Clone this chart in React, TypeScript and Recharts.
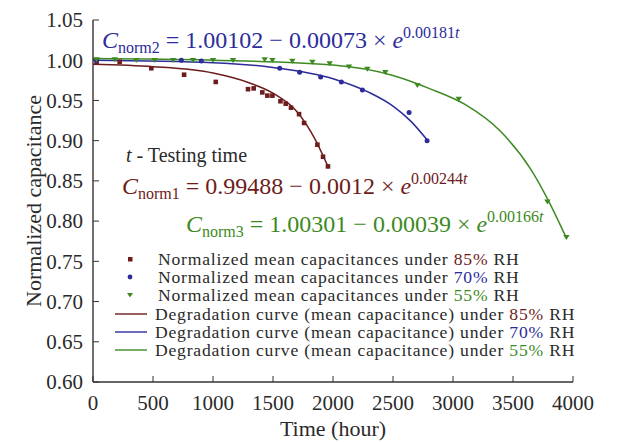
import { ComposedChart, Line, Scatter, XAxis, YAxis, Legend } from "recharts"

const SERIF = "Liberation Serif"
const INK = "#2a2a2a"
const RED = "#6e1c1c"
const BLUE = "#2c2c9a"
const GREEN = "#3d8a22"

const xTicks = [0, 500, 1000, 1500, 2000, 2500, 3000, 3500, 4000]
const yTicks = [0.6, 0.65, 0.7, 0.75, 0.8, 0.85, 0.9, 0.95, 1.0, 1.05]

// measured mean capacitances, 85% RH
const rh85Hours = [30, 222, 486, 759, 1023, 1292, 1339, 1411, 1453, 1495, 1562, 1606, 1650, 1717, 1759, 1870, 1917, 1958]
const rh85Values = [0.998, 0.998, 0.99, 0.982, 0.973, 0.964, 0.965, 0.96, 0.956, 0.956, 0.949, 0.946, 0.941, 0.933, 0.922, 0.895, 0.88, 0.868]

// 70% RH
const rh70Hours = [30, 736, 903, 1556, 1722, 1897, 2070, 2245, 2634, 2784]
const rh70Values = [1.0, 1.0, 0.999, 0.99, 0.985, 0.979, 0.973, 0.963, 0.935, 0.9]

// 55% RH
const rh55Hours = [30, 181, 361, 514, 667, 833, 1000, 1167, 1431, 1495, 1661, 1828, 1972, 2133, 2286, 2436, 2703, 3048, 3787, 3945]
const rh55Values = [1.001, 1.001, 1.0, 1.0, 1.0, 1.0, 1.0, 1.0, 1.001, 1.0, 0.999, 0.998, 0.996, 0.992, 0.989, 0.985, 0.969, 0.952, 0.824, 0.78]

// degradation curves
const fit85Hours = [0, 500, 1000, 1300, 1500, 1700, 1850, 1958]
const fit85Values = [0.995, 0.992, 0.984, 0.972, 0.959, 0.936, 0.902, 0.868]
const fit70Hours = [0, 1000, 1500, 2000, 2300, 2500, 2650, 2784]
const fit70Values = [1.0, 0.997, 0.991, 0.977, 0.96, 0.943, 0.924, 0.901]
const fit55Hours = [0, 1000, 2000, 2500, 2800, 3100, 3400, 3650, 3800, 3945]
const fit55Values = [1.002, 1.0, 0.994, 0.981, 0.965, 0.945, 0.911, 0.864, 0.824, 0.779]

const equations = [
  { sub: "norm2", a: "1.00102", b: "0.00073", k: "0.00181", color: BLUE, left: 102, top: 27 },
  { sub: "norm1", a: "0.99488", b: "0.0012", k: "0.00244", color: RED, left: 122, top: 173 },
  { sub: "norm3", a: "1.00301", b: "0.00039", k: "0.00166", color: GREEN, left: 186, top: 211 },
]

const legendRows = [
  { kind: "square", color: RED, label: "Normalized mean capacitances under ", pct: "85%" },
  { kind: "circle", color: BLUE, label: "Normalized mean capacitances under ", pct: "70%" },
  { kind: "triangle", color: GREEN, label: "Normalized mean capacitances under ", pct: "55%" },
  { kind: "line", color: RED, label: "Degradation curve (mean capacitance) under ", pct: "85%" },
  { kind: "line", color: BLUE, label: "Degradation curve (mean capacitance) under ", pct: "70%" },
  { kind: "line", color: GREEN, label: "Degradation curve (mean capacitance) under ", pct: "55%" },
]

const zip = (xs: number[], ys: number[]) => xs.map((x, i) => ({ x, y: ys[i] }))

const Square = (p: any) => <rect x={p.cx - 2.3} y={p.cy - 2.3} width={4.6} height={4.6} fill={RED} />
const Dot = (p: any) => <circle cx={p.cx} cy={p.cy} r={2.5} fill={BLUE} />
const DownTri = (p: any) => (
  <path d={`M${p.cx - 3.2},${p.cy - 2.2}L${p.cx + 3.2},${p.cy - 2.2}L${p.cx},${p.cy + 2.8}Z`} fill={GREEN} />
)

const Marker = ({ kind, color }: { kind: string; color: string }) => {
  if (kind === "line")
    return (
      <svg width={40} height={18} style={{ position: "absolute", left: 4, top: 0 }}>
        <line x1={1} x2={33} y1={9} y2={9} stroke={color} strokeWidth={1.4} />
      </svg>
    )
  return (
    <svg width={40} height={18} style={{ position: "absolute", left: 4, top: 0 }}>
      {kind === "square" && <rect x={14} y={7} width={4.5} height={4.5} fill={color} />}
      {kind === "circle" && <circle cx={16} cy={9} r={2.4} fill={color} />}
      {kind === "triangle" && <path d="M13,7L19,7L16,11.5Z" fill={color} />}
    </svg>
  )
}

const LegendBox = () => (
  <div style={{ fontFamily: SERIF, fontSize: 17.6, letterSpacing: 0.8, color: INK, width: 480 }}>
    {legendRows.map((r, i) => (
      <div key={i} style={{ position: "relative", height: 18.2, lineHeight: "18.2px", whiteSpace: "nowrap" }}>
        <Marker kind={r.kind} color={r.color} />
        <span style={{ paddingLeft: r.kind === "line" ? 45 : 48 }}>
          {r.label}
          <span style={{ color: r.color }}>{r.pct}</span> RH
        </span>
      </div>
    ))}
  </div>
)

const textStyle = { fontFamily: SERIF, fontSize: 21, fill: INK }
const titleStyle = { fontFamily: SERIF, fontSize: 22, fill: INK }

const XTick = ({ x, y, payload }: any) => (
  <text x={x} y={y} dy="0.71em" textAnchor="middle" style={textStyle}>
    {payload.value}
  </text>
)

const YTick = ({ x, y, payload }: any) => (
  <text x={x} y={y} dy="0.35em" textAnchor="end" style={textStyle}>
    {Number(payload.value).toFixed(2)}
  </text>
)

const XTitle = ({ viewBox }: any) => (
  <text x={viewBox.x + viewBox.width / 2} y={viewBox.y + viewBox.height - 6} textAnchor="middle" style={titleStyle}>
    Time (hour)
  </text>
)

const YTitle = ({ viewBox }: any) => {
  const cx = viewBox.x + 18
  const cy = viewBox.y + viewBox.height / 2
  return (
    <text x={cx} y={cy} dy="0.35em" textAnchor="middle" transform={`rotate(-90 ${cx} ${cy})`} style={titleStyle}>
      Normalized capacitance
    </text>
  )
}

const axisLine = { stroke: "#333", strokeWidth: 1.4 }

export default function App() {
  return (
    <div style={{ position: "absolute", left: 0, top: 0, width: 618, height: 442, background: "#fff", fontFamily: SERIF }}>
      <ComposedChart width={618} height={442} margin={{ top: 20, right: 45, bottom: 0, left: 15 }}>
        <XAxis
          dataKey="x"
          type="number"
          domain={[0, 4000]}
          ticks={xTicks}
          interval={0}
          height={60}
          tickSize={-6}
          tickMargin={19}
          tick={<XTick />}
          axisLine={axisLine}
          tickLine={{ stroke: "#333" }}
          label={<XTitle />}
        />
        <XAxis xAxisId="top" orientation="top" type="number" domain={[0, 4000]} height={0} tick={false} tickLine={false} axisLine={axisLine} />
        <YAxis
          dataKey="y"
          type="number"
          domain={[0.6, 1.05]}
          ticks={yTicks}
          interval={0}
          width={78}
          tickSize={-6}
          tickMargin={16}
          tick={<YTick />}
          axisLine={axisLine}
          tickLine={{ stroke: "#333" }}
          label={<YTitle />}
        />
        <YAxis yAxisId="right" orientation="right" type="number" domain={[0.6, 1.05]} width={0} tick={false} tickLine={false} axisLine={axisLine} />
        <Line data={zip(fit85Hours, fit85Values)} dataKey="y" type="monotone" stroke={RED} strokeWidth={1.5} dot={false} isAnimationActive={false} />
        <Line data={zip(fit70Hours, fit70Values)} dataKey="y" type="monotone" stroke={BLUE} strokeWidth={1.5} dot={false} isAnimationActive={false} />
        <Line data={zip(fit55Hours, fit55Values)} dataKey="y" type="monotone" stroke={GREEN} strokeWidth={1.5} dot={false} isAnimationActive={false} />
        <Scatter data={zip(rh85Hours, rh85Values)} shape={Square} isAnimationActive={false} />
        <Scatter data={zip(rh70Hours, rh70Values)} shape={Dot} isAnimationActive={false} />
        <Scatter data={zip(rh55Hours, rh55Values)} shape={DownTri} isAnimationActive={false} />
        <Legend
          layout="vertical"
          align="center"
          verticalAlign="middle"
          content={() => <LegendBox />}
          wrapperStyle={{ left: 110, top: 250, width: 480 }}
        />
      </ComposedChart>

      {equations.map((e) => (
        <div
          key={e.sub}
          style={{ position: "absolute", left: e.left, top: e.top, color: e.color, fontSize: 24, lineHeight: "26px", whiteSpace: "nowrap" }}
        >
          <i>C</i>
          <span style={{ fontSize: 16, position: "relative", top: 5 }}>{e.sub}</span> = {e.a} − {e.b} ×{" "}
          <i>e</i>
          <span style={{ fontSize: 16, position: "relative", top: -10 }}>
            {e.k}
            <i>t</i>
          </span>
        </div>
      ))}
      <div style={{ position: "absolute", left: 126, top: 142, fontSize: 20, lineHeight: "26px", color: INK }}>
        <i>t</i> - Testing time
      </div>
    </div>
  )
}
